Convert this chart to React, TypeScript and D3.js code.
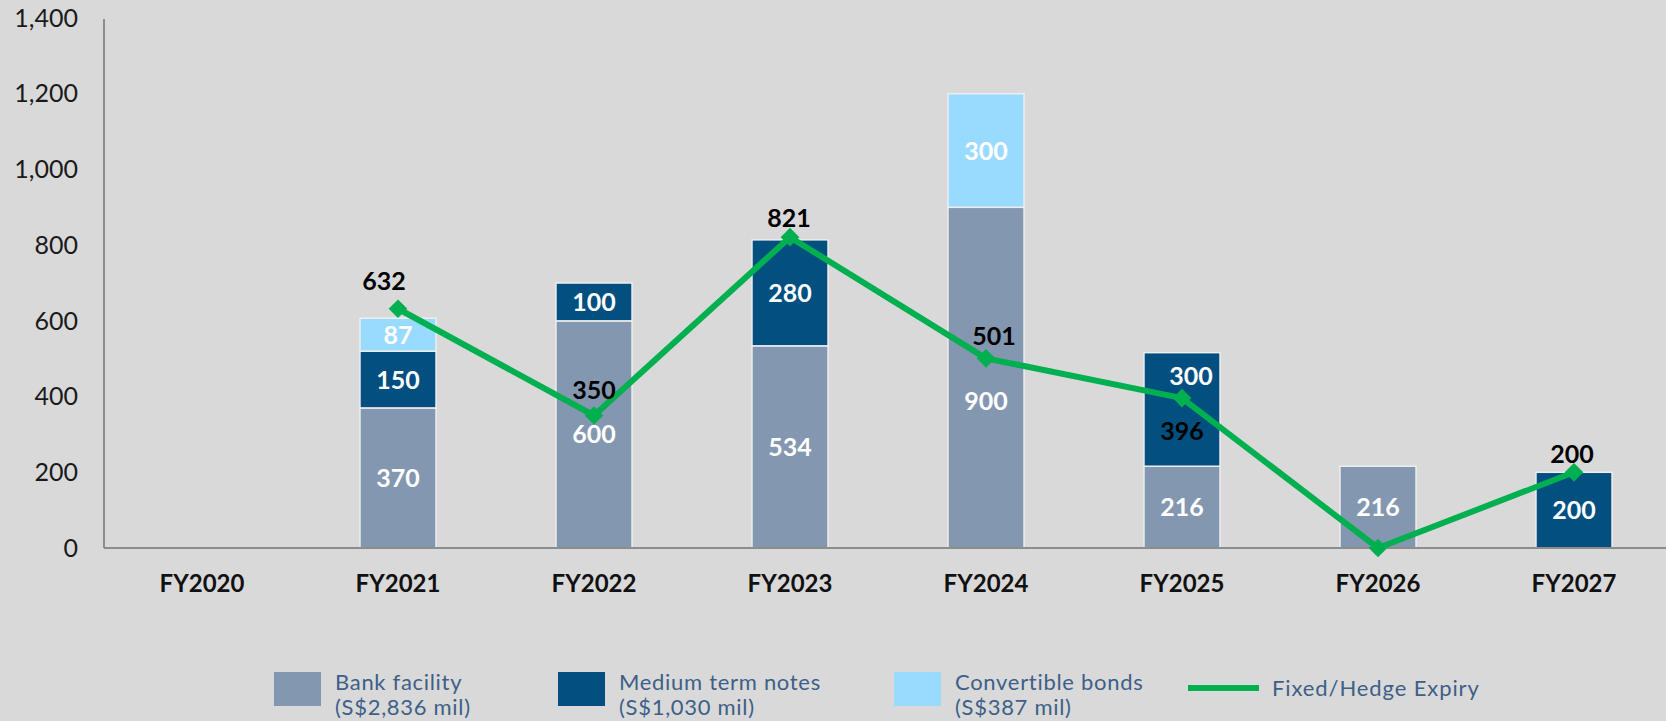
import React from "react";
import * as d3 from "d3";

const WIDTH = 1666;
const HEIGHT = 721;
const Margin = { top: 18, left: 104, bottom: 548 };

const categories = ["FY2020", "FY2021", "FY2022", "FY2023", "FY2024", "FY2025", "FY2026", "FY2027"];
const bankFacility = [0, 370, 600, 534, 900, 216, 216, 0];
const mediumTermNotes = [0, 150, 100, 280, 0, 300, 0, 200];
const convertibleBonds = [0, 87, 0, 0, 300, 0, 0, 0];
const hedgeExpiry: (number | null)[] = [null, 632, 350, 821, 501, 396, 0, 200];
const yTicks = [0, 200, 400, 600, 800, 1000, 1200, 1400];

const seriesKeys = ["bank", "mtn", "cb"];
const seriesColors: Record<string, string> = {
  bank: "#8497b0",
  mtn: "#024f80",
  cb: "#99dbff",
};
const legendItems = [
  { key: "bank", lines: ["Bank facility", "(S$2,836 mil)"] },
  { key: "mtn", lines: ["Medium term notes", "(S$1,030 mil)"] },
  { key: "cb", lines: ["Convertible bonds", "(S$387 mil)"] },
];

// hand placed label nudges, the way they sit in the original
const hedgeLabelNudge = [
  [0, 0], [-14, -19], [0, -17], [-1, -10], [8, -13], [0, 42], [0, 0], [-2, -9],
];
const segmentLabelNudge: Record<string, [number, number]> = {
  "FY2024-bank": [0, 23],
  "FY2025-mtn": [9, -33],
};

const FONT = "Lato, 'Open Sans', sans-serif";
const GREEN = "#00b050";
const LEGEND_TEXT = "#3d5f88";

const App = () => {
  const table = categories.map((c, i) => ({
    cat: c,
    bank: bankFacility[i],
    mtn: mediumTermNotes[i],
    cb: convertibleBonds[i],
  }));
  const stacked = d3.stack<any>().keys(seriesKeys)(table);

  const xScale = d3
    .scaleBand()
    .domain(categories)
    .range([Margin.left, Margin.left + 8 * 196])
    .paddingInner(0.612)
    .paddingOuter(0.306);
  const yScale = d3.scaleLinear().domain([0, 1400]).range([Margin.bottom, Margin.top]);
  const cx = (c: string) => (xScale(c) as number) + xScale.bandwidth() / 2;

  const line = d3
    .line<number | null>()
    .defined((d) => d !== null)
    .x((_, i) => cx(categories[i]))
    .y((d) => yScale(d as number));

  const marker = d3.symbol(d3.symbolSquare, 175)();

  return (
    <svg
      width={WIDTH}
      height={HEIGHT}
      style={{ position: "absolute", left: 0, top: 0, background: "#d9d9d9" }}
      fontFamily={FONT}
    >
      <rect width={WIDTH} height={HEIGHT} fill="#d9d9d9" />

      {/* y axis labels */}
      {yTicks.map((t) => (
        <text
          key={t}
          x={78}
          y={yScale(t)}
          dy="0.35em"
          textAnchor="end"
          fontSize={25}
          fill="#1a1a1a"
        >
          {d3.format(",")(t)}
        </text>
      ))}

      {/* bars */}
      {stacked.map((s) =>
        s.map((d, i) => {
          const v = d[1] - d[0];
          if (!v) return null;
          return (
            <rect
              key={s.key + i}
              x={xScale(categories[i])}
              y={yScale(d[1])}
              width={xScale.bandwidth()}
              height={yScale(d[0]) - yScale(d[1])}
              fill={seriesColors[s.key]}
              stroke="#eeeeee"
              strokeWidth={1.5}
            />
          );
        })
      )}
      {stacked.map((s) =>
        s.map((d, i) => {
          const v = d[1] - d[0];
          if (!v) return null;
          const nudge = segmentLabelNudge[`${categories[i]}-${s.key}`] || [0, 0];
          return (
            <text
              key={"l" + s.key + i}
              x={cx(categories[i]) + nudge[0]}
              y={yScale((d[0] + d[1]) / 2) + nudge[1]}
              dy="0.36em"
              textAnchor="middle"
              fontSize={25}
              fontWeight={700}
              fill="#ffffff"
            >
              {v}
            </text>
          );
        })
      )}

      {/* axes */}
      <line x1={Margin.left} y1={19} x2={Margin.left} y2={Margin.bottom} stroke="#8c8c8c" strokeWidth={2} />
      <line x1={Margin.left} y1={Margin.bottom} x2={WIDTH} y2={Margin.bottom} stroke="#8c8c8c" strokeWidth={2} />
      {categories.map((c) => (
        <text key={c} x={cx(c)} y={592} textAnchor="middle" fontSize={24} fontWeight={700} fill="#111">
          {c}
        </text>
      ))}

      {/* fixed / hedge expiry line */}
      <path d={line(hedgeExpiry) || ""} fill="none" stroke={GREEN} strokeWidth={6} strokeLinejoin="round" />
      {hedgeExpiry.map((v, i) =>
        v === null ? null : (
          <path
            key={"m" + i}
            d={marker || ""}
            transform={`translate(${cx(categories[i])},${yScale(v)}) rotate(45)`}
            fill={GREEN}
          />
        )
      )}
      {hedgeExpiry.map((v, i) =>
        v === null || v === 0 ? null : (
          <text
            key={"h" + i}
            x={cx(categories[i]) + hedgeLabelNudge[i][0]}
            y={yScale(v) + hedgeLabelNudge[i][1]}
            textAnchor="middle"
            fontSize={25}
            fontWeight={700}
            fill="#000"
          >
            {v}
          </text>
        )
      )}

      {/* legend */}
      {legendItems.map((it, i) => {
        const lx = [274, 558, 894][i];
        return (
          <g key={it.key} transform={`translate(${lx},0)`}>
            <rect x={0} y={672} width={47} height={34} fill={seriesColors[it.key]} />
            {it.lines.map((t, j) => (
              <text
                key={j}
                x={61}
                y={690 + j * 25}
                fontSize={22}
                letterSpacing={0.7}
                fill={LEGEND_TEXT}
              >
                {t}
              </text>
            ))}
          </g>
        );
      })}
      <line x1={1188} y1={688} x2={1259} y2={688} stroke={GREEN} strokeWidth={6} />
      <text x={1272} y={688} dy="0.35em" fontSize={22} letterSpacing={0.9} fill={LEGEND_TEXT}>
        Fixed/Hedge Expiry
      </text>
    </svg>
  );
};

export default App;
